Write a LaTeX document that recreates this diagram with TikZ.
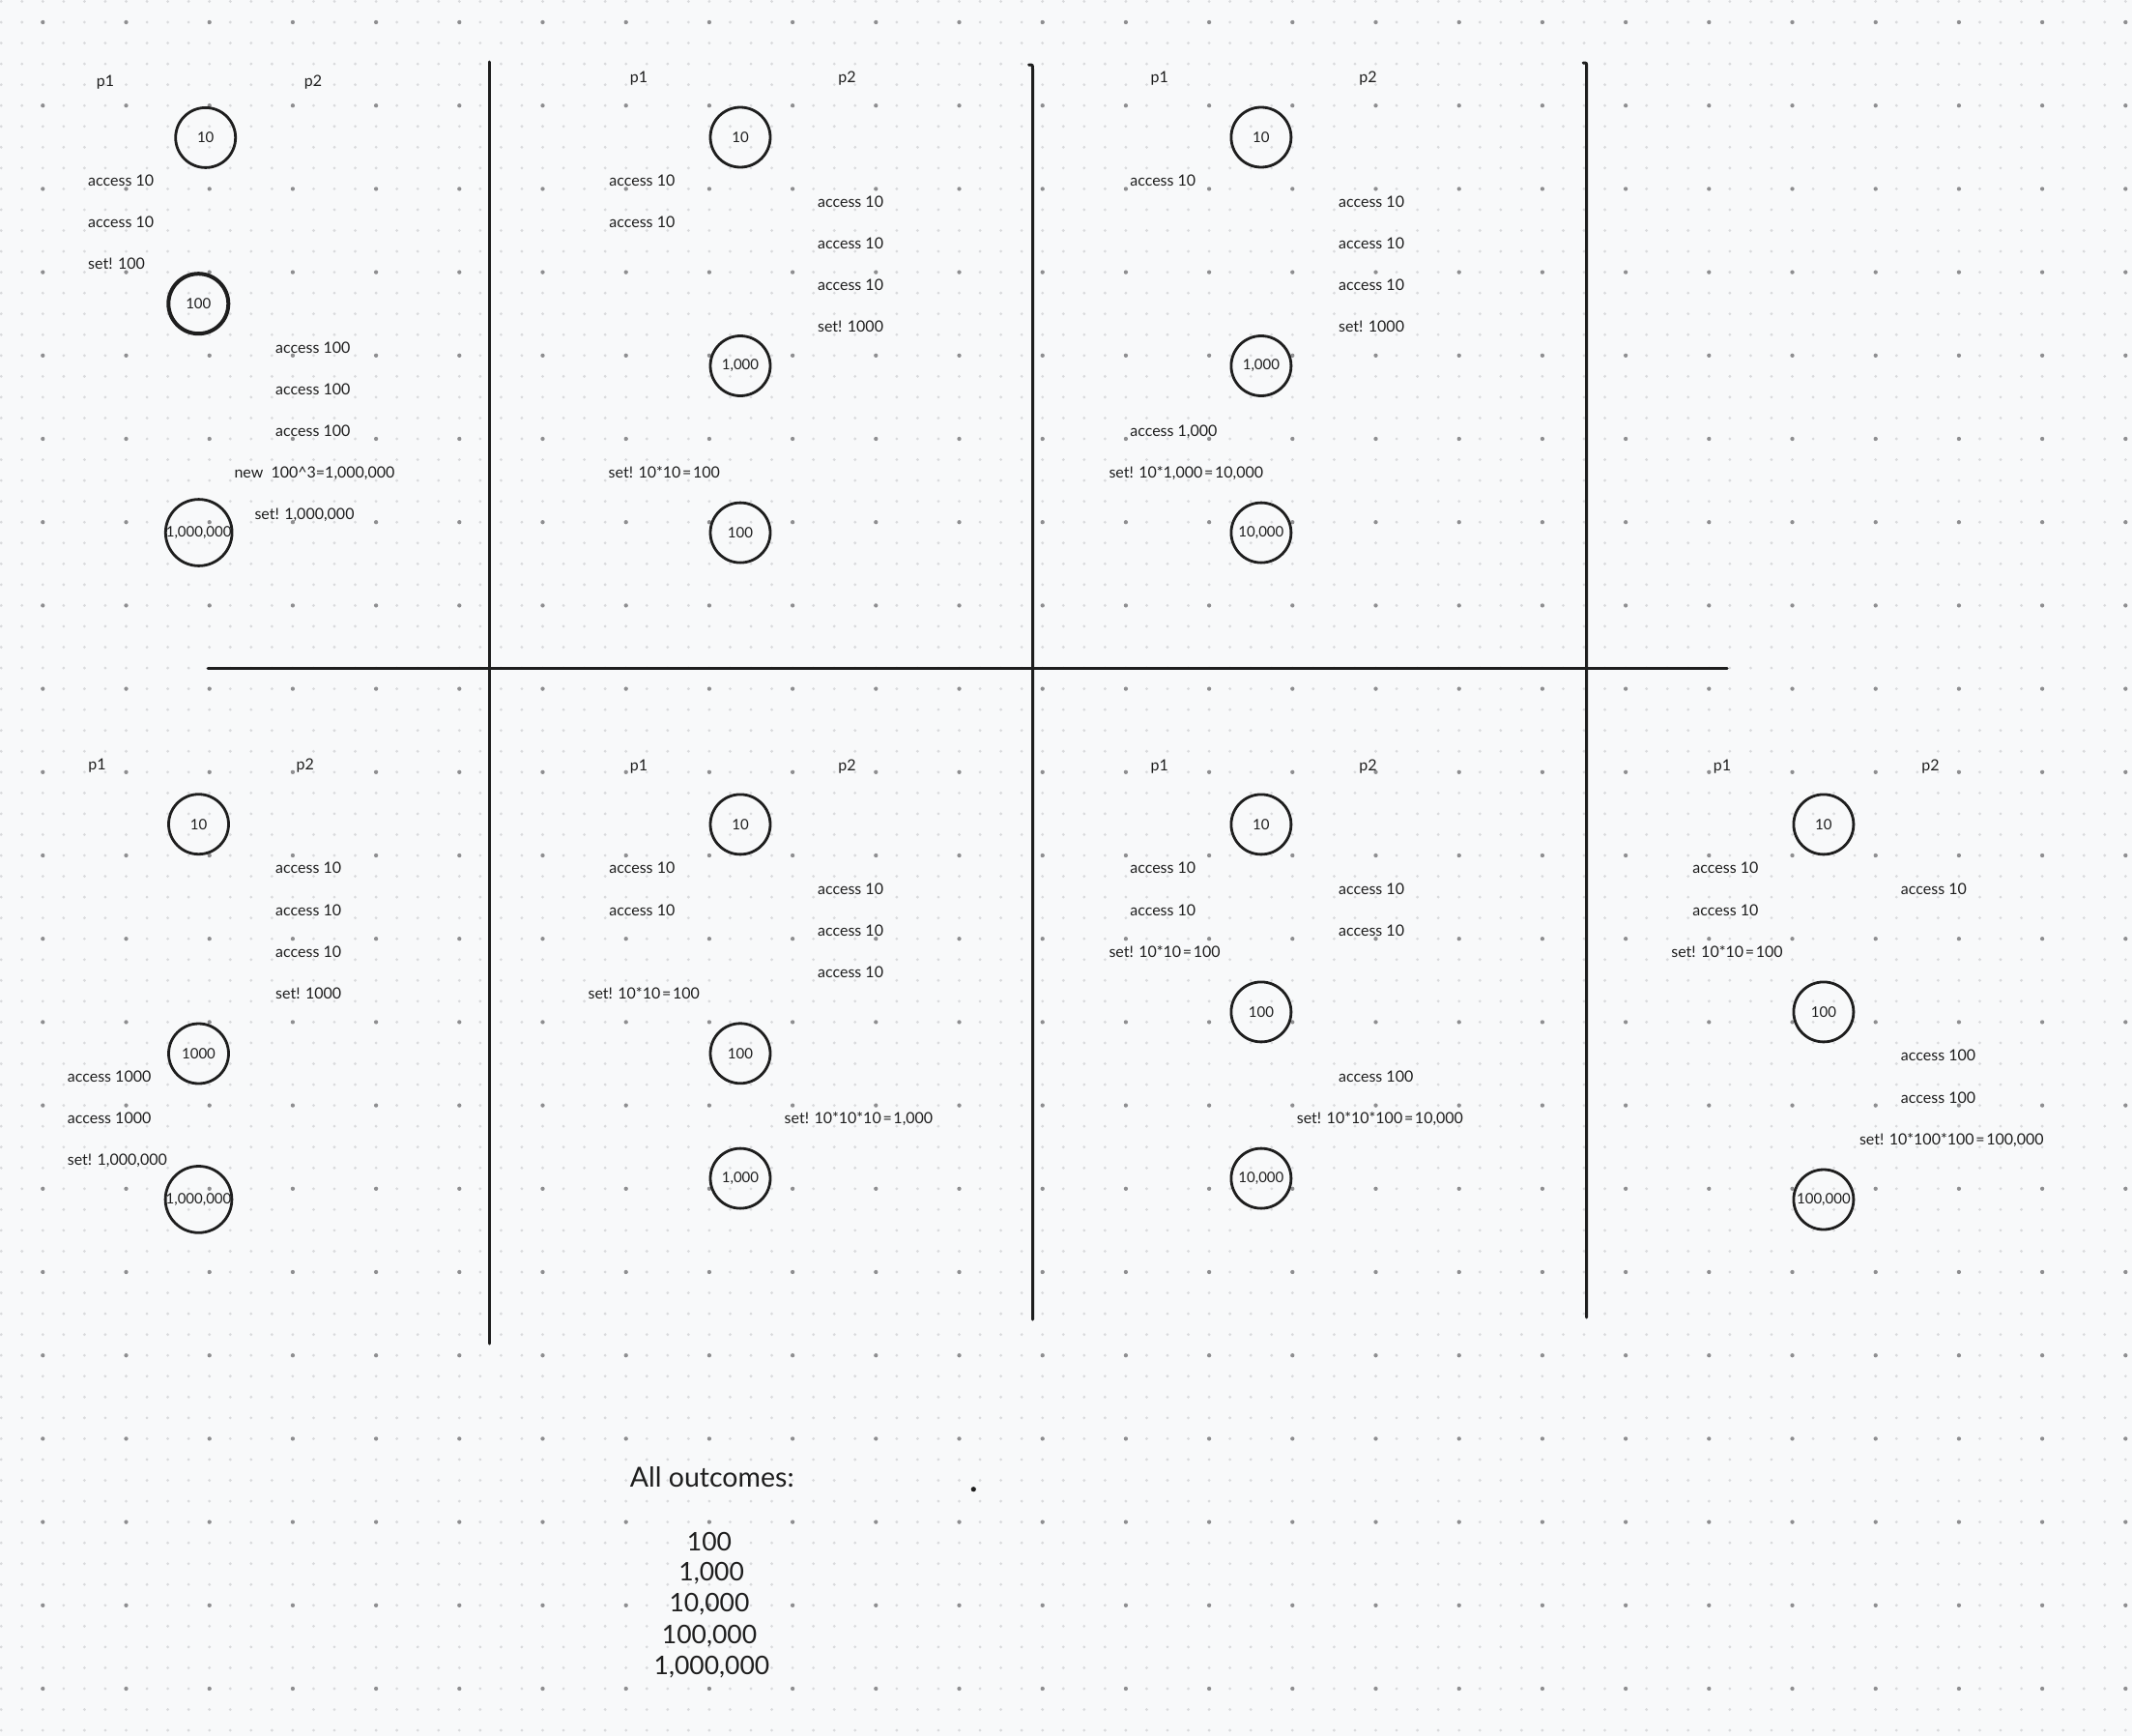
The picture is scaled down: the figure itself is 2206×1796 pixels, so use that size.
\documentclass[tikz,border=0pt]{standalone}
\usepackage{fontspec}
\setmainfont{Lato}
\definecolor{ink}{HTML}{1E1E1E}
\definecolor{bg}{HTML}{F8F9FA}
\definecolor{dotS}{HTML}{D9DADC}
\definecolor{dotB}{HTML}{8E8E90}
\newcommand\eqs{\hspace{1.7pt}=\hspace{1.7pt}}
\tikzset{
  lbl/.style={anchor=mid west, inner sep=0pt, yshift=-3pt, text=ink, font=\fontsize{16}{19}\selectfont},
  plbl/.style={anchor=mid, inner sep=0pt, yshift=-3pt, text=ink, font=\fontsize{16}{19}\selectfont},
  val/.style={circle, draw=ink, line width=2.8pt, minimum size=62pt, inner sep=0pt, text=ink, font=\fontsize{15}{18}\selectfont},
  thickval/.style={val, line width=4pt},
  divider/.style={draw=ink, line width=3pt, line cap=round},
  outc/.style={anchor=mid, inner sep=0pt, yshift=-6pt, text=ink, font=\fontsize{26.5}{32}\selectfont},
  outh/.style={anchor=mid west, inner sep=0pt, yshift=-6pt, text=ink, font=\fontsize{28.5}{34}\selectfont},
  smalldots/.style={draw=dotS, line width=3.1pt, line cap=round, dash pattern=on 0pt off 21.55pt},
  bigdots/.style={draw=dotB, line width=4.3pt, line cap=round, dash pattern=on 0pt off 86.2pt}
}
\begin{document}
\begin{tikzpicture}[x=1pt,y=-1pt]
\useasboundingbox (0,0) rectangle (2206,1796);
\fill[bg] (0,0) rectangle (2206,1796);
% dot grid (rows of zero-length round dashes)
\foreach \j in {0,...,83}{
  \draw[smalldots] (1.2,{1.45+21.55*\j}) -- (2206,{1.45+21.55*\j});
}
\foreach \j in {0,...,20}{
  \draw[bigdots] (44.3,{23+86.2*\j}) -- (2206,{23+86.2*\j});
}
% dividers
\coordinate (v1t) at (506.6,64);  \coordinate (v1b) at (506.6,1390);
\coordinate (v2h) at (1064.5,67); \coordinate (v2b) at (1068.5,1365);
\coordinate (v3h) at (1638.2,65); \coordinate (v3b) at (1641.7,1363);
\coordinate (hl) at (215,691);    \coordinate (hr) at (1787,691);
\draw[divider] (v1t) -- (v1b);
\draw[divider] (v2h) .. controls (1068.5,67) .. (1068.5,72) -- (v2b);
\draw[divider] (v3h) .. controls (1641.7,65) .. (1641.7,70) -- (v3b);
\draw[divider] (hl) -- (hr);

% ---------- Panel A (top-left)
\node[plbl] (Ap1) at (109,84) {p1};
\node[plbl] (Ap2) at (324,84) {p2};
\node[val] (Ac1) at (212.7,142.4) {10};
\node[thickval] (Ac2) at (205.3,314.2) {100};
\node[val] (Ac3) at (205.7,551) {1,000,000};
\node[lbl] (Aa1) at (91,187) {access 10};
\node[lbl] (Aa2) at (91,230) {access 10};
\node[lbl] (Aa3) at (91,273) {set! 100};
\node[lbl] (Ab1) at (285,359.7) {access 100};
\node[lbl] (Ab2) at (285,403) {access 100};
\node[lbl] (Ab3) at (285,445.8) {access 100};
\node[lbl] (Ab4) at (242.3,488.7) {new\ \ 100\textasciicircum 3=1,000,000};
\node[lbl] (Ab5) at (263.3,532) {set! 1,000,000};

% ---------- Panel B (top-middle)
\node[plbl] (Bp1) at (660.9,79.6) {p1};
\node[plbl] (Bp2) at (876.6,79.6) {p2};
\node[val] (Bc1) at (766,142) {10};
\node[val] (Bc2) at (766,378.5) {1,000};
\node[val] (Bc3) at (766,551.1) {100};
\node[lbl] (Ba1) at (630.2,187.1) {access 10};
\node[lbl] (Ba2) at (630.2,230) {access 10};
\node[lbl] (Bb1) at (845.9,209) {access 10};
\node[lbl] (Bb2) at (845.9,252.2) {access 10};
\node[lbl] (Bb3) at (845.9,295) {access 10};
\node[lbl] (Bb4) at (845.9,337.9) {set! 1000};
\node[lbl] (Ba3) at (629.5,488.7) {set! 10*10\eqs 100};

% ---------- Panel C (top-right)
\node[plbl] (Cp1) at (1199.7,79.6) {p1};
\node[plbl] (Cp2) at (1415.5,79.6) {p2};
\node[val] (Cc1) at (1304.9,142) {10};
\node[val] (Cc2) at (1304.9,378.5) {1,000};
\node[val] (Cc3) at (1304.9,551.1) {10,000};
\node[lbl] (Ca1) at (1169.1,187.1) {access 10};
\node[lbl] (Cb1) at (1384.9,209) {access 10};
\node[lbl] (Cb2) at (1384.9,252.2) {access 10};
\node[lbl] (Cb3) at (1384.9,295) {access 10};
\node[lbl] (Cb4) at (1384.9,337.9) {set! 1000};
\node[lbl] (Ca2) at (1169.1,445.8) {access 1,000};
\node[lbl] (Ca3) at (1147.3,488.7) {set! 10*1,000\eqs 10,000};

% ---------- Panel D (bottom-left)
\node[plbl] (Dp1) at (100.5,791.2) {p1};
\node[plbl] (Dp2) at (315.8,791.2) {p2};
\node[val] (Dc1) at (205.5,852.7) {10};
\node[val] (Dc2) at (205.5,1090) {1000};
\node[val] (Dc3) at (205.5,1240.9) {1,000,000};
\node[lbl] (Db1) at (285,897.8) {access 10};
\node[lbl] (Db2) at (285,942.1) {access 10};
\node[lbl] (Db3) at (285,985) {access 10};
\node[lbl] (Db4) at (285,1028) {set! 1000};
\node[lbl] (Da1) at (69.7,1113.8) {access 1000};
\node[lbl] (Da2) at (69.7,1156.7) {access 1000};
\node[lbl] (Da3) at (69.7,1199.7) {set! 1,000,000};

% ---------- Panel E (bottom-middle)
\node[plbl] (Ep1) at (660.9,791.7) {p1};
\node[plbl] (Ep2) at (876.6,791.7) {p2};
\node[val] (Ec1) at (766,852.9) {10};
\node[val] (Ec2) at (766,1089.8) {100};
\node[val] (Ec3) at (766,1219.1) {1,000};
\node[lbl] (Ea1) at (630.2,898) {access 10};
\node[lbl] (Ea2) at (630.2,942) {access 10};
\node[lbl] (Eb1) at (845.9,919.9) {access 10};
\node[lbl] (Eb2) at (845.9,963.1) {access 10};
\node[lbl] (Eb3) at (845.9,1006) {access 10};
\node[lbl] (Ea3) at (608.4,1027.8) {set! 10*10\eqs 100};
\node[lbl] (Eb4) at (811.5,1157.1) {set! 10*10*10\eqs 1,000};

% ---------- Panel F (bottom-middle-right)
\node[plbl] (Fp1) at (1199.7,791.7) {p1};
\node[plbl] (Fp2) at (1415.5,791.7) {p2};
\node[val] (Fc1) at (1304.9,852.9) {10};
\node[val] (Fc2) at (1304.9,1046.9) {100};
\node[val] (Fc3) at (1304.9,1219.1) {10,000};
\node[lbl] (Fa1) at (1169.1,898) {access 10};
\node[lbl] (Fa2) at (1169.1,942) {access 10};
\node[lbl] (Fa3) at (1147.3,984.9) {set! 10*10\eqs 100};
\node[lbl] (Fb1) at (1384.9,919.9) {access 10};
\node[lbl] (Fb2) at (1384.9,963.1) {access 10};
\node[lbl] (Fb3) at (1384.9,1113.9) {access 100};
\node[lbl] (Fb4) at (1341.7,1157.1) {set! 10*10*100\eqs 10,000};

% ---------- Panel G (bottom-right)
\node[plbl] (Gp1) at (1781.9,791.7) {p1};
\node[plbl] (Gp2) at (1997.4,791.7) {p2};
\node[val] (Gc1) at (1886.9,852.9) {10};
\node[val] (Gc2) at (1886.9,1046.9) {100};
\node[val] (Gc3) at (1886.9,1241) {100,000};
\node[lbl] (Ga1) at (1751.2,898) {access 10};
\node[lbl] (Ga2) at (1751.2,942) {access 10};
\node[lbl] (Ga3) at (1729.2,984.9) {set! 10*10\eqs 100};
\node[lbl] (Gb1) at (1966.7,919.9) {access 10};
\node[lbl] (Gb2) at (1966.7,1091.7) {access 100};
\node[lbl] (Gb3) at (1966.7,1136.1) {access 100};
\node[lbl] (Gb4) at (1923.8,1179) {set! 10*100*100\eqs 100,000};

% ---------- Outcomes
\node[outh] (Oh) at (651.7,1530) {All outcomes:};
\node[outc] (O1) at (734,1595.7) {100};
\node[outc] (O2) at (736.2,1626.7) {1,000};
\node[outc] (O3) at (734,1659.3) {10,000};
\node[outc] (O4) at (734,1692) {100,000};
\node[outc] (O5) at (736.5,1724) {1,000,000};
\fill[ink] (1007.3,1540.7) circle (2.6);
\end{tikzpicture}
\end{document}
